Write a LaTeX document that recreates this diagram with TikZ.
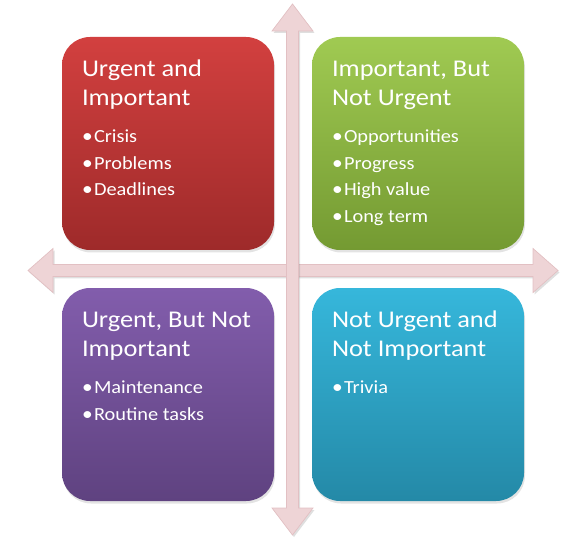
\documentclass[tikz,border=0pt]{standalone}
\usepackage{fontspec}
\setmainfont{Carlito}
\newfontfamily\widefont[FakeStretch=1.1]{Carlito}
\usetikzlibrary{calc,shadows}
\definecolor{redtop}{RGB}{210,64,63}
\definecolor{redbot}{RGB}{158,42,42}
\definecolor{greentop}{RGB}{160,202,82}
\definecolor{greenbot}{RGB}{116,154,50}
\definecolor{purptop}{RGB}{130,93,172}
\definecolor{purpbot}{RGB}{95,66,128}
\definecolor{bluetop}{RGB}{54,183,219}
\definecolor{bluebot}{RGB}{36,137,167}
\definecolor{arrowfill}{RGB}{238,212,214}
\definecolor{arrowline}{RGB}{226,192,195}
\newcommand{\bul}[1]{\makebox[12pt][l]{\fontsize{19.5}{20}\selectfont•}#1}
\begin{document}
\begin{tikzpicture}[x=1pt,y=-1pt,
  quad/.style={draw=none, minimum width=212pt, minimum height=213pt, rounded corners=28pt, inner sep=0pt,
    drop shadow={opacity=0.22, shadow xshift=1pt, shadow yshift=-2.5pt}},
  ttl/.style={text=white, anchor=base west, inner sep=0pt, font=\widefont\fontsize{24}{28}\selectfont},
  itm/.style={text=white, anchor=base west, inner sep=0pt, font=\widefont\fontsize{18.5}{22}\selectfont},
  axis/.style={fill=arrowfill, draw=arrowline, line width=0.7pt, line join=miter,
    drop shadow={opacity=0.25, shadow xshift=1.5pt, shadow yshift=-2pt}}]
\useasboundingbox (0,0) rectangle (586,545);

% axes
\path[axis] (28,270.5) -- (53,248.5) -- (53,264.5) -- (533,264.5) -- (533,248.5) -- (558,270.5)
  -- (533,292.5) -- (533,276.5) -- (53,276.5) -- (53,292.5) -- cycle;
\path[axis] (292.5,4) -- (313,31) -- (298.5,31) -- (298.5,508) -- (313,508) -- (292.5,535)
  -- (272,508) -- (286.5,508) -- (286.5,31) -- (272,31) -- cycle;

% boxes
\node[quad, top color=redtop, bottom color=redbot] (ui) at (168,143.5) {};
\node[quad, top color=greentop, bottom color=greenbot] (ni) at (418,143.5) {};
\node[quad, top color=purptop, bottom color=purpbot] (un) at (168,394.5) {};
\node[quad, top color=bluetop, bottom color=bluebot] (nn) at (418,394.5) {};

% red
\node[ttl] (ui1) at ($(ui.north west)+(20,40)$) {Urgent and};
\node[ttl] (ui2) at ($(ui.north west)+(20,69)$) {Important};
\node[itm] (uia) at ($(ui.north west)+(20,106)$) {\bul{Crisis}};
\node[itm] (uib) at ($(ui.north west)+(20,132.5)$) {\bul{Problems}};
\node[itm] (uic) at ($(ui.north west)+(20,159)$) {\bul{Deadlines}};

% green
\node[ttl] (ni1) at ($(ni.north west)+(20,40)$) {Important, But};
\node[ttl] (ni2) at ($(ni.north west)+(20,69)$) {Not Urgent};
\node[itm] (nia) at ($(ni.north west)+(20,106)$) {\bul{Opportunities}};
\node[itm] (nib) at ($(ni.north west)+(20,132.5)$) {\bul{Progress}};
\node[itm] (nic) at ($(ni.north west)+(20,159)$) {\bul{High value}};
\node[itm] (nid) at ($(ni.north west)+(20,185.5)$) {\bul{Long term}};

% purple
\node[ttl] (un1) at ($(un.north west)+(20,40)$) {Urgent, But Not};
\node[ttl] (un2) at ($(un.north west)+(20,69)$) {Important};
\node[itm] (una) at ($(un.north west)+(20,106)$) {\bul{Maintenance}};
\node[itm] (unb) at ($(un.north west)+(20,132.5)$) {\bul{Routine tasks}};

% blue
\node[ttl] (nn1) at ($(nn.north west)+(20,40)$) {Not Urgent and};
\node[ttl] (nn2) at ($(nn.north west)+(20,69)$) {Not Important};
\node[itm] (nna) at ($(nn.north west)+(20,106)$) {\bul{Trivia}};
\end{tikzpicture}
\end{document}
